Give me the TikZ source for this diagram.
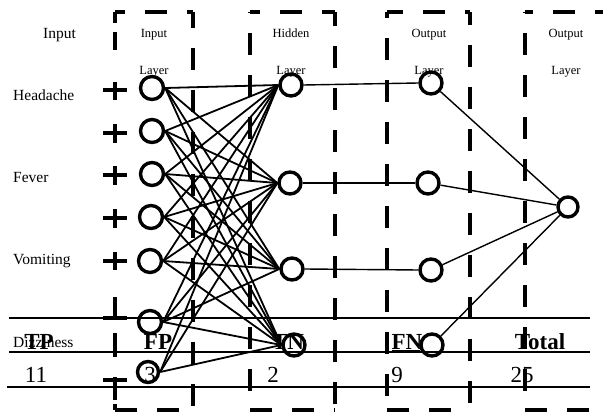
\documentclass[tikz,border=0pt]{standalone}
\usepackage{fontspec}
\setmainfont{Liberation Serif}
\begin{document}
\begin{tikzpicture}[x=1pt,y=-1pt,
  neuron/.style={circle,draw,line width=3.4pt,minimum size=22pt,inner sep=0pt},
  boxdash/.style={line width=4pt,dash pattern=on 22pt off 20pt},
  bar/.style={line width=4pt},
  syn/.style={line width=1.8pt},
  syn2/.style={line width=1.4pt},
  rulel/.style={line width=1.3pt},
  lab/.style={font=\fontsize{15.5}{16}\selectfont,anchor=base west,inner sep=0pt},
  lay/.style={font=\fontsize{12.5}{13}\selectfont,anchor=base,inner sep=0pt},
  hd/.style={font=\fontsize{23}{24}\selectfont\bfseries,anchor=base,inner sep=0pt},
  num/.style={font=\fontsize{23}{24}\selectfont,anchor=base,inner sep=0pt}]
\useasboundingbox (0,0) rectangle (603,414);
\clip (0,0) rectangle (603,414);
\fill[white] (0,0) rectangle (603,414);

% table rules
\coordinate (r1a) at (9,318);  \coordinate (r1b) at (590,318);
\coordinate (r2a) at (9,352);  \coordinate (r2b) at (590,352);
\coordinate (r3a) at (7,387);  \coordinate (r3b) at (590,387);
\draw[rulel] (r1a) -- (r1b);
\draw[rulel] (r2a) -- (r2b);
\draw[rulel] (r3a) -- (r3b);
\coordinate (fnu1) at (392,352); \coordinate (fnu2) at (420,352);
\draw[line width=3pt] (fnu1) -- (fnu2);

% left labels
\node[lab] (tIn) at (43,39) {Input};
\node[lab] (tHe) at (13,101) {Headache};
\node[lab] (tFe) at (13,183) {Fever};
\node[lab] (tVo) at (13,265) {Vomiting};
\node[lab] (tDi) at (13,348) {Dizziness};

% layer labels
\node[lay] (l1a) at (154,38) {Input};
\node[lay] (l1b) at (154,75) {Layer};
\node[lay] (l2a) at (291,38) {Hidden};
\node[lay] (l2b) at (291,75) {Layer};
\node[lay] (l3a) at (429,38) {Output};
\node[lay] (l3b) at (429,75) {Layer};
\node[lay] (l4a) at (566,38) {Output};
\node[lay] (l4b) at (566,75) {Layer};

% table texts
\node[hd] (tp) at (39,350) {TP};
\node[hd] (fp) at (158,350) {FP};
\node[hd] (tn) at (288,350) {TN};
\node[hd] (fn) at (407,350) {FN};
\node[hd] (tot) at (540,350) {Total};
\node[num] (n1) at (36,382) {11};
\node[num] (n2) at (150,382) {3};
\node[num] (n3) at (273,382) {2};
\node[num] (n4) at (397,382) {9};
\node[num] (n5) at (522,382) {25};

% dashed boxes: top edges
\draw[boxdash,dash phase=12] (115,12) -- (193,12);
\draw[boxdash,dash phase=12] (250,12) -- (335,12);
\draw[boxdash,dash phase=6]  (387,12) -- (470,12);
\draw[boxdash,dash phase=14] (525,12) -- (640,12);
% bottom edges
\draw[boxdash] (115,410) -- (193,410);
\draw[boxdash] (250,410) -- (335,410);
\draw[boxdash] (387,410) -- (470,410);
\draw[boxdash] (525,410) -- (640,410);
% vertical edges
\draw[boxdash,dash phase=6]  (193,12) -- (193,410);
\draw[boxdash,dash phase=21] (250,12) -- (250,410);
\draw[boxdash,dash phase=8]  (335,12) -- (335,410);
\draw[boxdash,dash phase=16] (387,12) -- (387,410);
\draw[boxdash,dash phase=9]  (470,12) -- (470,410);
\draw[boxdash,dash phase=21] (525,12) -- (525,410);
% left edge of first box with plus signs
\foreach \a/\b in {12/23,32/50,82/100,124/143,166/185,209/228,252/270,297/318,333/357,377/400,404/410}
  \draw[bar] (115,\a) -- (115,\b);
\foreach \y in {90,133,175,218,261,318,380}
  \draw[bar] (103,\y) -- (127,\y);

% neurons
\node[neuron,minimum size=23pt] (i1) at (152,88) {};
\node[neuron,minimum size=23pt] (i2) at (152,131) {};
\node[neuron,minimum size=23pt] (i3) at (152,174) {};
\node[neuron,minimum size=23pt] (i4) at (151,217) {};
\node[neuron,minimum size=23pt] (i5) at (150,261) {};
\node[neuron,minimum size=23pt] (i6) at (150,322) {};
\node[neuron,minimum size=21pt] (i7) at (148,372) {};
\node[neuron] (h1) at (291,85) {};
\node[neuron] (h2) at (290,183) {};
\node[neuron] (h3) at (292,269) {};
\node[neuron] (h4) at (294,345) {};
\node[neuron] (o1) at (431,83) {};
\node[neuron] (o2) at (428,183) {};
\node[neuron] (o3) at (431,270) {};
\node[neuron] (o4) at (432,345) {};
\node[neuron,minimum size=20pt] (f) at (568,207) {};

% connections input -> hidden
\foreach \i in {1,...,6}
  \foreach \h in {1,...,4}
    \draw[syn] (i\i.east) -- (h\h.west);
\foreach \h in {1,2,4}
  \draw[syn] (i7.east) -- (h\h.west);

% hidden -> output
\foreach \k in {1,2,3}
  \draw[syn2] (h\k.east) -- (o\k.west);
% output -> final
\foreach \k in {1,...,4}
  \draw[syn2] (o\k) -- (f);
\end{tikzpicture}
\end{document}
